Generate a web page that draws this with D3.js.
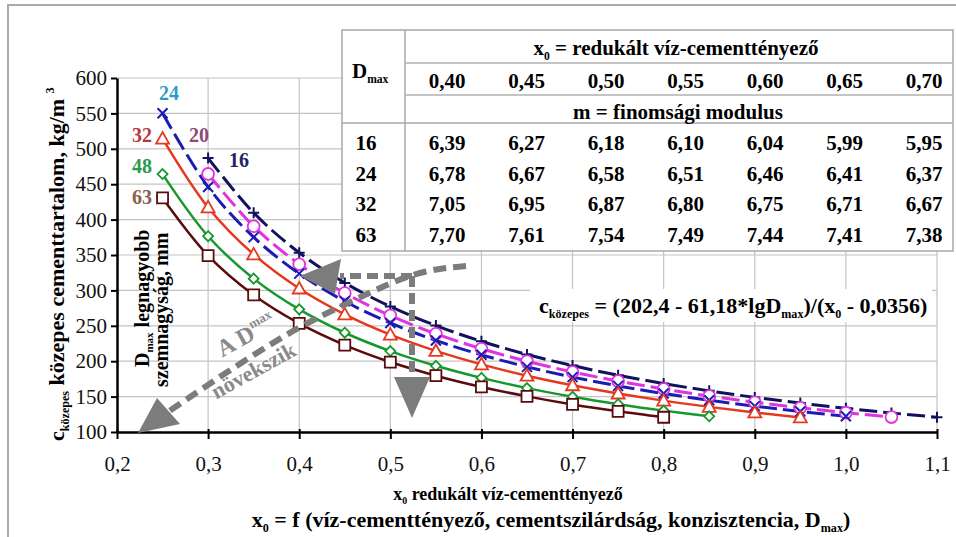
<!DOCTYPE html>
<html><head><meta charset="utf-8">
<script src="https://cdn.jsdelivr.net/npm/d3@7"></script>
</head><body style="margin:0;background:#fff">
<svg id="c" width="956" height="537" style="display:block" font-family="Times New Roman"></svg>
<script>
// ---------- data ----------
const xValues = [0.25,0.30,0.35,0.40,0.45,0.50,0.55,0.60,0.65,0.70,0.75,0.80,0.85,0.90,0.95,1.00,1.05,1.10];
const dmax16 = [null,486.9,409.5,353.3,310.6,277.2,250.3,228.1,209.5,193.8,180.2,168.4,158.1,148.9,140.8,133.5,126.9,120.9];
const dmax20 = [null,464.5,390.6,337.0,296.3,264.4,238.7,217.6,199.9,184.8,171.9,160.7,150.8,142.1,134.3,127.3,121.1,null];
const dmax24 = [550.2,446.1,375.2,323.7,284.6,254.0,229.3,209.0,192.0,177.5,165.1,154.3,144.8,136.5,129.0,122.3,null,null];
const dmax32 = [514.5,417.2,350.9,302.7,266.2,237.5,214.5,195.5,179.5,166.0,154.4,144.3,135.5,127.6,120.6,null,null,null];
const dmax48 = [464.3,376.5,316.6,273.2,240.2,214.3,193.5,176.4,162.0,149.8,139.3,130.2,122.2,null,null,null,null,null];
const dmax63 = [430.6,349.2,293.6,253.3,222.8,198.8,179.5,163.6,150.3,138.9,129.2,120.8,null,null,null,null,null,null];
const seriesNames = ["16","20","24","32","48","63"];
const seriesValues = [dmax16,dmax20,dmax24,dmax32,dmax48,dmax63];

const xTicks = [0.2,0.3,0.4,0.5,0.6,0.7,0.8,0.9,1.0,1.1];
const xTickLabels = ["0,2","0,3","0,4","0,5","0,6","0,7","0,8","0,9","1,0","1,1"];
const yTicks = [100,150,200,250,300,350,400,450,500,550,600];

const tableX0 = ["0,40","0,45","0,50","0,55","0,60","0,65","0,70"];
const tableDmax = ["16","24","32","63"];
const tableM16 = ["6,39","6,27","6,18","6,10","6,04","5,99","5,95"];
const tableM24 = ["6,78","6,67","6,58","6,51","6,46","6,41","6,37"];
const tableM32 = ["7,05","6,95","6,87","6,80","6,75","6,71","6,67"];
const tableM63 = ["7,70","7,61","7,54","7,49","7,44","7,41","7,38"];
const tableRows = [tableM16,tableM24,tableM32,tableM63];

// ---------- styles ----------
const FAM = "Times New Roman";
const styles = {
  "16":{color:"#12125c", dash:"18,6", w:3, marker:"plus"},
  "20":{color:"#e032e0", dash:"18,6", w:3, marker:"circle"},
  "24":{color:"#1c1cb4", dash:"18,6", w:3, marker:"cross"},
  "32":{color:"#e6381f", dash:null, w:2.5, marker:"triangle"},
  "48":{color:"#16982e", dash:null, w:2.5, marker:"diamond"},
  "63":{color:"#5a0c0c", dash:null, w:2.5, marker:"square"}
};
const labelPos = {
  "24":{x:169,y:100,c:"#2e9cc8"},
  "32":{x:142,y:142,c:"#b43a3a"},
  "20":{x:199,y:142,c:"#8e4a74"},
  "16":{x:239,y:167,c:"#23235e"},
  "48":{x:142,y:173,c:"#2a9a4c"},
  "63":{x:142,y:204,c:"#8b5e4e"}
};

const svg = d3.select("#c");
const L=117, R=937, T=78, B=432;
const x = d3.scaleLinear().domain([0.2,1.1]).range([L,R]);
const y = d3.scaleLinear().domain([100,600]).range([B,T]);

function txt(parent, size, bold){
  return parent.append("text").attr("font-family",FAM).style("font-family",'"'+FAM+'"')
    .attr("font-size",size).style("font-size",size+"px")
    .attr("font-weight",bold?"bold":"normal").style("font-weight",bold?"bold":"normal");
}
function rich(sel, parts, size){
  let cur = 0;
  parts.forEach(p=>{
    const t = typeof p === "string" ? [p,"n"] : p;
    const ts = sel.append("tspan").text(t[0]);
    let target = 0, fs = size;
    if(t[1]==="sub"){ target = size*0.22; fs = size*0.55; }
    if(t[1]==="sup"){ target = -size*0.45; fs = size*0.55; }
    ts.attr("font-size",fs).style("font-size", fs+"px").attr("dy", target-cur);
    cur = target;
  });
  return sel;
}

// frame
svg.append("rect").attr("x",8).attr("y",5).attr("width",980).attr("height",560)
  .attr("fill","none").attr("stroke","#aaaaaa").attr("stroke-width",2);

// grid
const grid = svg.append("g").attr("stroke","#c4c4c4").attr("stroke-width",1.2);
xTicks.slice(1).forEach(v=>grid.append("line").attr("x1",x(v)).attr("x2",x(v)).attr("y1",T).attr("y2",B));
yTicks.slice(1).forEach(v=>grid.append("line").attr("x1",L).attr("x2",R).attr("y1",y(v)).attr("y2",y(v)));

// table
const tb = svg.append("g");
const tL=342, tR=953, tT=30, tB=251, tC=405;
tb.append("rect").attr("x",tL).attr("y",tT).attr("width",tR-tL).attr("height",tB-tT)
  .attr("fill","#fff").attr("stroke","#a8a8a8").attr("stroke-width",1.5);
tb.append("line").attr("x1",tC).attr("x2",tC).attr("y1",tT).attr("y2",tB).attr("stroke","#a8a8a8").attr("stroke-width",1.5);
[63,95].forEach(v=>tb.append("line").attr("x1",tC).attr("x2",tR).attr("y1",v).attr("y2",v).attr("stroke","#b0b0b0").attr("stroke-width",1.5));
tb.append("line").attr("x1",tL).attr("x2",tR).attr("y1",123).attr("y2",123).attr("stroke","#a8a8a8").attr("stroke-width",1.5);
const colX = d3.scalePoint().domain(d3.range(tableX0.length)).range([447,924]);
const tf = 21;
rich(txt(tb,tf,true).attr("x",676).attr("y",55).attr("text-anchor","middle"),
  ["x",["0","sub"]," = redukált víz-cementtényező"], tf);
tableX0.forEach((t,i)=>txt(tb,tf,true).attr("x",colX(i)).attr("y",88).attr("text-anchor","middle").text(t));
txt(tb,tf,true).attr("x",678).attr("y",119).attr("text-anchor","middle").text("m = finomsági modulus");
rich(txt(tb,tf,true).attr("x",352).attr("y",78), ["D",["max","sub"]], tf);
tableDmax.forEach((d,r)=>{
  const yy = 150 + r*30.5;
  txt(tb,tf,true).attr("x",366).attr("y",yy).attr("text-anchor","middle").text(d);
  tableRows[r].forEach((t,i)=>txt(tb,tf,true).attr("x",colX(i)).attr("y",yy).attr("text-anchor","middle").text(t));
});

// formula box
svg.append("rect").attr("x",530).attr("y",289).attr("width",402).attr("height",33).attr("fill","#fff");
rich(txt(svg,22,true).attr("x",539).attr("y",313),
  ["c",["közepes","sub"]," = (202,4 - 61,18*lgD",["max","sub"],")/(x",["0","sub"]," - 0,0356)"], 22);

// series
const line = d3.line().defined(d=>d[1]!=null).x(d=>x(d[0])).y(d=>y(d[1])).curve(d3.curveCatmullRom.alpha(0.5));
const sg = svg.append("g");
seriesNames.forEach((n,i)=>{
  const st = styles[n];
  const pts = xValues.map((xv,j)=>[xv, seriesValues[i][j]]);
  sg.append("path").datum(pts.filter(d=>d[1]!=null)).attr("d",line).attr("fill","none")
    .attr("stroke",st.color).attr("stroke-width",st.w).attr("stroke-dasharray",st.dash);
});
const markerPath = {
  plus:"M-5.5,0H5.5M0,-5.5V5.5",
  cross:"M-5,-5L5,5M-5,5L5,-5",
  circle:d3.symbol(d3.symbolCircle,110)(),
  triangle:"M0,-6.5L6.5,5L-6.5,5Z",
  diamond:"M0,-5L5,0L0,5L-5,0Z",
  square:"M-5.5,-5.5H5.5V5.5H-5.5Z"
};
seriesNames.forEach((n,i)=>{
  const st = styles[n];
  xValues.forEach((xv,j)=>{
    const v = seriesValues[i][j];
    if(v==null) return;
    sg.append("path").attr("d",markerPath[st.marker]).attr("transform",`translate(${x(xv)},${y(v)})`)
      .attr("fill",(st.marker==="plus"||st.marker==="cross")?"none":"#fff")
      .attr("stroke",st.color).attr("stroke-width",st.marker==="plus"||st.marker==="cross"?2:1.8);
  });
});

// axes
const ax = svg.append("g");
const yAxis = d3.axisLeft(y).tickValues(yTicks).tickSize(6).tickSizeOuter(0).tickPadding(4).tickFormat(d=>d);
const yg = ax.append("g").attr("transform",`translate(${L},0)`).call(yAxis);
const xAxis = d3.axisBottom(x).tickValues(xTicks).tickSize(7).tickSizeOuter(0).tickPadding(17)
  .tickFormat((d,i)=>xTickLabels[i]);
const xg = ax.append("g").attr("transform",`translate(0,${B})`).call(xAxis);
[yg,xg].forEach(g=>{
  g.attr("font-family",FAM).attr("font-size",21);
  g.select(".domain").attr("stroke","#000").attr("stroke-width",2.5);
  g.selectAll(".tick line").attr("stroke","#000").attr("stroke-width",2);
  g.selectAll(".tick text").attr("font-family",FAM).style("font-family",'"'+FAM+'"')
    .attr("font-size",21).style("font-size","21px").attr("fill","#111");
});
xg.selectAll(".tick line").attr("y1",-3);

// series number labels
seriesNames.forEach(n=>{
  const p = labelPos[n];
  txt(svg,20,true).attr("x",p.x).attr("y",p.y).attr("text-anchor","middle").attr("fill",p.c).text(n);
});

// axis titles
rich(txt(svg,22,true).attr("transform","translate(64,441) rotate(-90)"),
  ["c",["közepes","sub"]," közepes cementtartalom, kg/m ",["3","sup"]], 22);
rich(txt(svg,20,true).attr("transform","translate(149,367) rotate(-90)"),
  ["D",["max","sub"]," legnagyobb"], 20);
txt(svg,20,true).attr("transform","translate(168,387) rotate(-90)").text("szemnagyság, mm");
rich(txt(svg,18,true).attr("x",508).attr("y",500).attr("text-anchor","middle"),
  ["x",["0","sub"]," redukált víz-cementtényező"], 18);
rich(txt(svg,22,true).attr("x",551).attr("y",527).attr("text-anchor","middle"),
  ["x",["0","sub"]," = f (víz-cementtényező, cementszilárdság, konzisztencia, D",["max","sub"],")"], 22);

// arrows
const gray = "#7c7c7c";
const ag = svg.append("g");
const curvePts = [[466,266],[425,270],[390,283],[350,302],[300,326],[250,357],[200,390],[168,412]];
ag.append("path").attr("d",d3.line().curve(d3.curveBasis)(curvePts)).attr("fill","none")
  .attr("stroke",gray).attr("stroke-width",6).attr("stroke-dasharray","13,7");
ag.append("path").attr("d","M138,433L157,398L180,424Z").attr("fill",gray);
ag.append("path").attr("d","M412,276H340").attr("stroke",gray).attr("stroke-width",6).attr("stroke-dasharray","11,6").attr("fill","none");
ag.append("path").attr("d","M412,276V378").attr("stroke",gray).attr("stroke-width",6).attr("stroke-dasharray","11,6").attr("fill","none");
ag.append("path").attr("d","M300,276L341,259L335,294Z").attr("fill",gray);
ag.append("path").attr("d","M412,418L394,377L430,377Z").attr("fill",gray);
rich(txt(ag,24,true).attr("transform","translate(250,342) rotate(-29)").attr("text-anchor","middle")
  .attr("fill","#8a8a8a"), ["A D",["max","sup"]], 24);
txt(ag,22,true).attr("transform","translate(257,377) rotate(-29)").attr("text-anchor","middle")
  .attr("fill","#8a8a8a").text("növekszik");
</script>
</body></html>
